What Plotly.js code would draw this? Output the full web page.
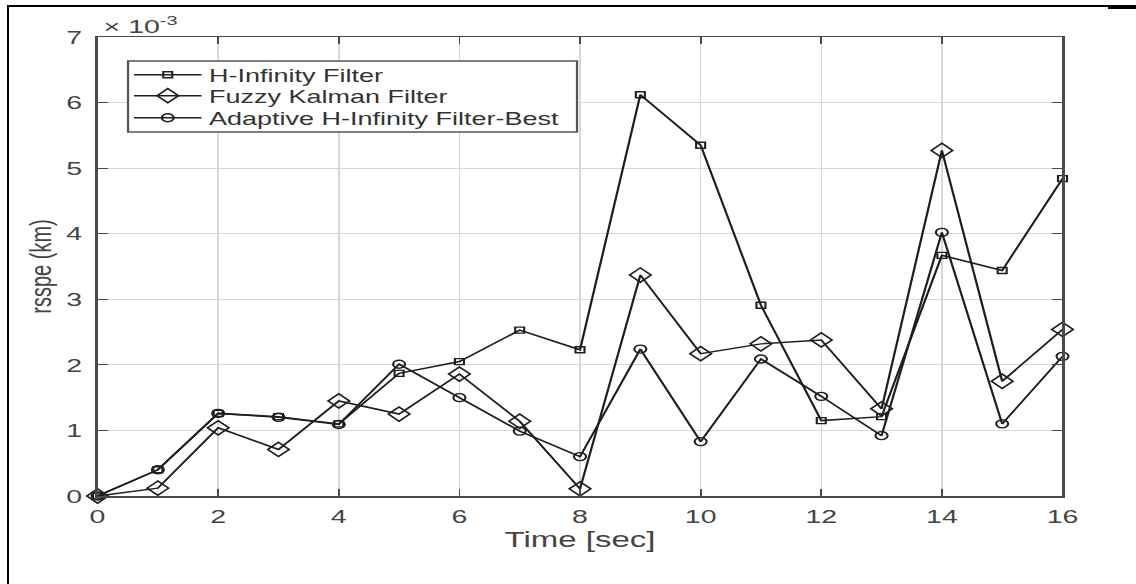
<!DOCTYPE html>
<html>
<head>
<meta charset="utf-8">
<script src="https://cdn.plot.ly/plotly-3.0.1.min.js"></script>
<style>
  html, body { margin: 0; padding: 0; background: #fff; width: 1136px; height: 584px; overflow: hidden; }
  #wrap { position: absolute; left: 0; top: 0; width: 1136px; height: 584px; }
  #chart { position: absolute; left: 0; top: 0; transform-origin: 0 0; }
  .frame { position: absolute; background: #000; }
</style>
</head>
<body>
<div id="wrap">
  <div id="chart"></div>
  <div class="frame" style="left:7px; top:5px; width:1129px; height:2px;"></div>
  <div class="frame" style="left:1108px; top:6px; width:28px; height:3px;"></div>
  <div class="frame" style="left:7px; top:5px; width:2px; height:579px;"></div>
</div>
<script>
// Values in units of 1e-3 km (axis shows "x10^-3")
const timeSec = [0, 1, 2, 3, 4, 5, 6, 7, 8, 9, 10, 11, 12, 13, 14, 15, 16];
const hInfinity = [0, 0.40, 1.26, 1.21, 1.10, 1.87, 2.05, 2.53, 2.23, 6.12, 5.35, 2.91, 1.15, 1.21, 3.67, 3.44, 4.84];
const fuzzyKalman = [0, 0.12, 1.04, 0.71, 1.45, 1.25, 1.86, 1.14, 0.11, 3.37, 2.17, 2.32, 2.38, 1.33, 5.27, 1.75, 2.54];
const adaptiveHInf = [0, 0.40, 1.26, 1.20, 1.09, 2.01, 1.50, 0.99, 0.60, 2.24, 0.83, 2.09, 1.52, 0.92, 4.02, 1.10, 2.13];
const seriesNames = ["H-Infinity Filter", "Fuzzy Kalman Filter", "Adaptive H-Infinity Filter-Best"];
const xTickVals = [0, 2, 4, 6, 8, 10, 12, 14, 16];
const yTickVals = [0, 1, 2, 3, 4, 5, 6, 7];

const SX = 1.5007;
const W = 757, H = 584;
const lineColor = '#1e1e1e';
const fontFam = '"Liberation Sans", Arial, Helvetica, sans-serif';

function trace(y, name, symbol, size, legendId) {
  return {
    x: timeSec, y: y, name: name, type: 'scatter', mode: 'lines+markers',
    cliponaxis: false, legend: legendId,
    line: {color: lineColor, width: 1.5},
    marker: {symbol: symbol, size: size, color: lineColor, line: {width: 1.4, color: lineColor}}
  };
}

const data = [
  trace(hInfinity, seriesNames[0], 'square-open', 6, 'legend'),
  trace(fuzzyKalman, seriesNames[1], 'diamond-open', 11, 'legend2'),
  trace(adaptiveHInf, seriesNames[2], 'circle-open', 8, 'legend3')
];

const axisCommon = {
  showline: true, linecolor: '#4a4a4a', linewidth: 1.5, mirror: 'ticks',
  ticks: 'inside', ticklen: 7, tickwidth: 1.2, tickcolor: '#4a4a4a',
  showgrid: true, gridcolor: '#d8d8d8', gridwidth: 1, zeroline: false,
  tickfont: {family: fontFam, size: 19, color: '#444'}
};

function legendAt(yPos) {
  return {
    x: 0.03, y: yPos, xanchor: 'left', yanchor: 'middle',
    bgcolor: 'rgba(0,0,0,0)', borderwidth: 0,
    font: {family: fontFam, size: 18, color: '#333'},
    itemwidth: 45
  };
}

const layout = {
  width: W, height: H,
  margin: {l: 65, r: 49, t: 37, b: 88, pad: 0},
  paper_bgcolor: '#ffffff', plot_bgcolor: '#ffffff',
  showlegend: true,
  xaxis: Object.assign({}, axisCommon, {
    range: [0, 16], tickvals: xTickVals, ticktext: xTickVals.map(String),
    ticklabelstandoff: 3,
    title: {text: 'Time [sec]', font: {family: fontFam, size: 22, color: '#444'}, standoff: 5}
  }),
  yaxis: Object.assign({}, axisCommon, {
    range: [0, 7], tickvals: yTickVals, ticktext: yTickVals.map(String),
    ticklabelstandoff: 5,
    title: {text: 'rsspe (km)', font: {family: fontFam, size: 20, color: '#444'}, standoff: 4}
  }),
  legend: legendAt(0.9172),
  legend2: legendAt(0.8715),
  legend3: legendAt(0.8235),
  shapes: [{
    type: 'rect', xref: 'paper', yref: 'paper', layer: 'above',
    x0: 0.0316, x1: 0.4969, y0: 0.7930, y1: 0.9477,
    fillcolor: '#ffffff', line: {color: '#555', width: 1.5}
  }],
  annotations: [{
    text: '\u00d7 10<sup>-3</sup>', xref: 'paper', yref: 'paper', x: 0.003, y: 1,
    xanchor: 'left', yanchor: 'bottom', showarrow: false, yshift: -2,
    font: {family: fontFam, size: 19, color: '#444'}
  }]
};

const el = document.getElementById('chart');
Plotly.newPlot(el, data, layout, {displayModeBar: false, staticPlot: true}).then(function () {
  el.style.transform = 'scaleX(' + SX + ')';
});
</script>
</body>
</html>
